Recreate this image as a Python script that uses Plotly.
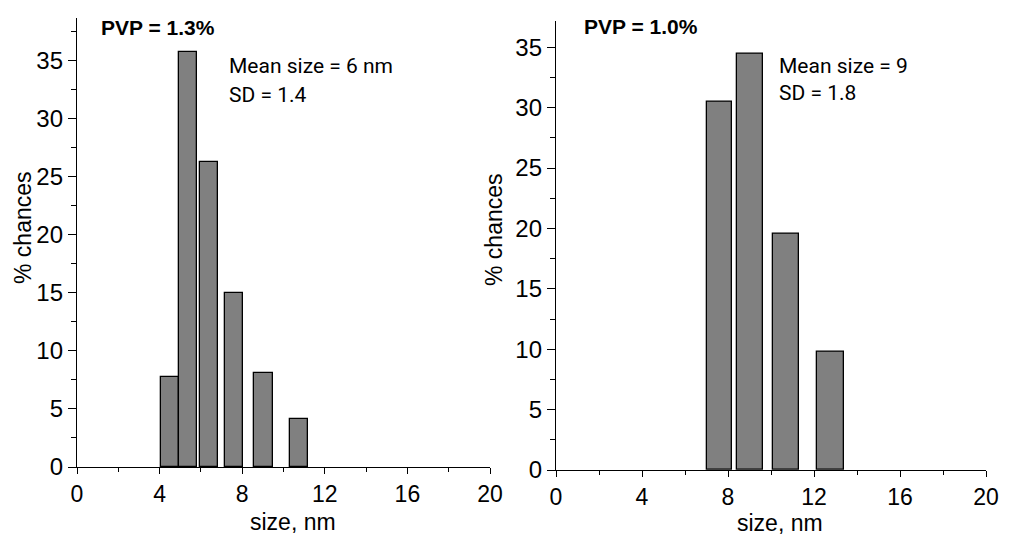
import plotly.graph_objects as go

# ---- data ----
size_left = [4.5, 5.38, 6.4, 7.6, 9.03, 10.75]
width_left = [0.88, 0.86, 0.87, 0.87, 0.89, 0.88]
pct_left = [7.8, 35.8, 26.3, 15.0, 8.1, 4.1]

size_right = [7.61, 9.03, 10.72, 12.76]
width_right = [1.19, 1.22, 1.21, 1.23]
pct_right = [30.5, 34.5, 19.55, 9.78]

title_left = "PVP = 1.3%"
title_right = "PVP = 1.0%"
stats_left = ["Mean size = 6 nm", "SD = 1.4"]
stats_right = ["Mean size = 9", "SD = 1.8"]

W, H = 1019, 535
FONT = "Liberation Sans, Arial, sans-serif"
NARROW = "Roboto, Liberation Sans, Arial, sans-serif"

def px(x):
    return x / W

def py(y):
    return 1 - y / H

fig = go.Figure()
bar_style = dict(marker=dict(color="#808080", line=dict(color="black", width=1.3)), showlegend=False)
fig.add_trace(go.Bar(x=size_left, y=pct_left, width=width_left, xaxis="x", yaxis="y", **bar_style))
fig.add_trace(go.Bar(x=size_right, y=pct_right, width=width_right, xaxis="x2", yaxis="y2", **bar_style))

def xax(domain, anchor):
    return dict(domain=domain, anchor=anchor, range=[0, 20], tickvals=[0, 4, 8, 12, 16, 20],
                automargin=False,
                showline=True, linecolor="black", linewidth=1.3, ticks="outside", ticklen=6,
                tickwidth=1.3, tickcolor="black", showgrid=False, zeroline=False,
                tickfont=dict(family=FONT, size=23, color="black"),
                minor=dict(dtick=2, tick0=0, ticks="outside", ticklen=4, tickwidth=1.3, tickcolor="black"))

def yax(domain, anchor, top):
    return dict(domain=domain, anchor=anchor, range=[0, top], tickvals=[0, 5, 10, 15, 20, 25, 30, 35],
                automargin=False,
                showline=True, linecolor="black", linewidth=1.3, ticks="outside", ticklen=8,
                tickwidth=1.3, tickcolor="black", showgrid=False, zeroline=False,
                tickfont=dict(family=FONT, size=24, color="black"),
                minor=dict(dtick=2.5, tick0=0, ticks="outside", ticklen=5, tickwidth=1.3, tickcolor="black"))

fig.update_layout(
    width=W, height=H, margin=dict(l=0, r=0, t=0, b=0, autoexpand=False),
    paper_bgcolor="white", plot_bgcolor="white", bargap=0,
    xaxis=xax([px(77), px(490)], "y"),
    yaxis=yax([py(467), py(18)], "x", 38.7),
    xaxis2=xax([px(556), px(986)], "y2"),
    yaxis2=yax([py(470), py(20.7)], "x2", 37.2),
)

ann = []
def text(t, x, y, size=24, bold=False, xanchor="left", angle=0, family=FONT):
    ann.append(dict(text=("<b>%s</b>" % t) if bold else t, x=px(x), y=py(y), xref="paper", yref="paper",
                    xanchor=xanchor, yanchor="middle", showarrow=False, textangle=angle,
                    font=dict(family=family, size=size, color="black")))

text(title_left, 99, 27, size=21, bold=True)
text(title_right, 582, 26, size=21, bold=True)
text(stats_left[0], 227, 66, size=21, family=NARROW)
text(stats_left[1], 227, 95, size=21, family=NARROW)
text(stats_right[0], 777, 66, size=21, family=NARROW)
text(stats_right[1], 777, 93, size=21, family=NARROW)
text("size, nm", 293, 522, size=23, xanchor="center")
text("size, nm", 780, 523, size=23, xanchor="center")
text("% chances", 23, 228, size=23, xanchor="center", angle=-90)
text("% chances", 494, 230, size=23, xanchor="center", angle=-90)
fig.update_layout(annotations=ann)

fig.write_html("out.html")
